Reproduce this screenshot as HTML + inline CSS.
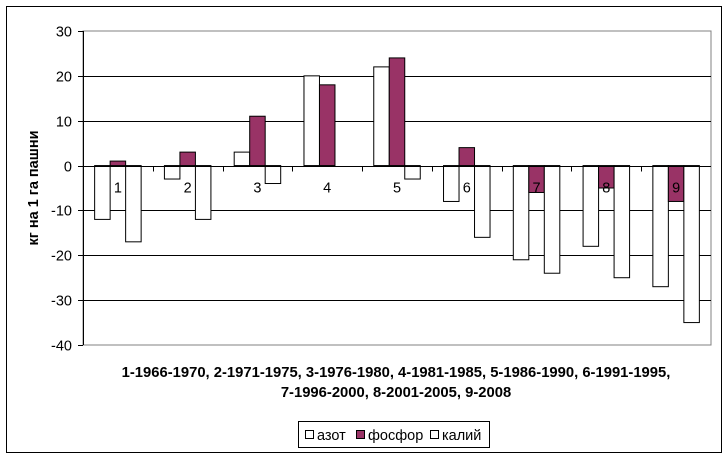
<!DOCTYPE html>
<html><head><meta charset="utf-8"><style>
body{margin:0;background:#fff}
svg text{font-family:"Liberation Sans",sans-serif}
</style></head><body>
<svg id="c" width="728" height="458" xmlns="http://www.w3.org/2000/svg">
<rect x="6.5" y="6.5" width="715" height="446" fill="#fff" stroke="#000"/>
<g id="grid"></g><g id="bars"></g><g id="labels"></g>
<text transform="translate(38,188) rotate(-90)" text-anchor="middle" font-size="14.5" font-weight="bold">кг на 1 га пашни</text>
<text x="396" y="377" text-anchor="middle" font-size="14.8" font-weight="bold">1-1966-1970, 2-1971-1975, 3-1976-1980, 4-1981-1985, 5-1986-1990, 6-1991-1995,</text>
<text x="396" y="397" text-anchor="middle" font-size="14.8" font-weight="bold">7-1996-2000, 8-2001-2005, 9-2008</text>
<g>
<rect x="298.5" y="421.5" width="191" height="26" fill="#fff" stroke="#000"/>
<rect x="305.5" y="430.5" width="8" height="8" fill="#fff" stroke="#000"/>
<text x="317" y="440" font-size="14.5">азот</text>
<rect x="356.5" y="430.5" width="8" height="8" fill="#993366" stroke="#000"/>
<text x="368" y="440" font-size="14.5">фосфор</text>
<rect x="430.5" y="430.5" width="8" height="8" fill="#fff" stroke="#000"/>
<text x="442" y="440" font-size="14.5">калий</text>
</g>
</svg>
<script>
const categories=["1","2","3","4","5","6","7","8","9"];
const azot=[-12,-3,3,20,22,-8,-21,-18,-27];
const fosfor=[1,3,11,18,24,4,-6,-5,-8];
const kaliy=[-17,-12,-4,0,-3,-16,-24,-25,-35];
const yTicks=[30,20,10,0,-10,-20,-30,-40];
const NS="http://www.w3.org/2000/svg";
const L=83,R=711,T=31,B=345,ymax=30,ymin=-40;
function y(v){return T+(ymax-v)/(ymax-ymin)*(B-T);}
const gw=(R-L)/categories.length;
function gx(i){return L+i*gw;}
function mk(t,a,p){const e=document.createElementNS(NS,t);for(const k in a)e.setAttribute(k,a[k]);p.appendChild(e);return e;}
const grid=document.getElementById('grid'),bars=document.getElementById('bars'),labels=document.getElementById('labels');
const pa=mk('rect',{x:L,y:T,width:R-L,height:B-T,fill:'#fff',stroke:'#808080'},grid);


yTicks.forEach(v=>{
 const yy=Math.round(y(v))+0.5;
 if(v!==ymax&&v!==ymin&&v!==0){const g=mk('line',{x1:L,x2:R,y1:yy,y2:yy,stroke:'#000'},grid);
 
 }
 const tk=mk('line',{x1:L-5,x2:L,y1:yy,y2:yy,stroke:'#000'},grid);
 
 
 const t=mk('text',{x:L-11,y:yy+5,'text-anchor':'end','font-size':14.5},grid);t.textContent=v;
 
 
});
const ya=mk('line',{x1:L+0.5,x2:L+0.5,y1:T,y2:B,stroke:'#000'},grid);


const series=[[azot,'#fff','azot'],[fosfor,'#993366','fosfor'],[kaliy,'#fff','kaliy']];
const bw=15.5,off=(gw-3*bw)/2;
categories.forEach((c,i)=>{
 series.forEach((s,j)=>{
  const v=s[0][i];if(v===0)return;
  const x0=gx(i)+off+j*bw,y0=Math.min(y(v),y(0)),h=Math.abs(y(v)-y(0));
  const r=mk('rect',{x:x0,y:y0,width:bw,height:h,fill:s[1],stroke:'#000'},bars);
  
  
 });
 const t=mk('text',{x:gx(i)+gw/2,y:y(0)+27,'text-anchor':'middle','font-size':14.5},labels);t.textContent=c;
 
 
});
const z=Math.round(y(0))+0.5;
const xa=mk('line',{x1:L,x2:R,y1:z,y2:z,stroke:'#000'},labels);


categories.forEach((c,i)=>{
 const xx=Math.round(gx(i))+0.5;
 const tk=mk('line',{x1:xx,x2:xx,y1:z,y2:z+5,stroke:'#000'},labels);
 
 
});
</script>
</body></html>
